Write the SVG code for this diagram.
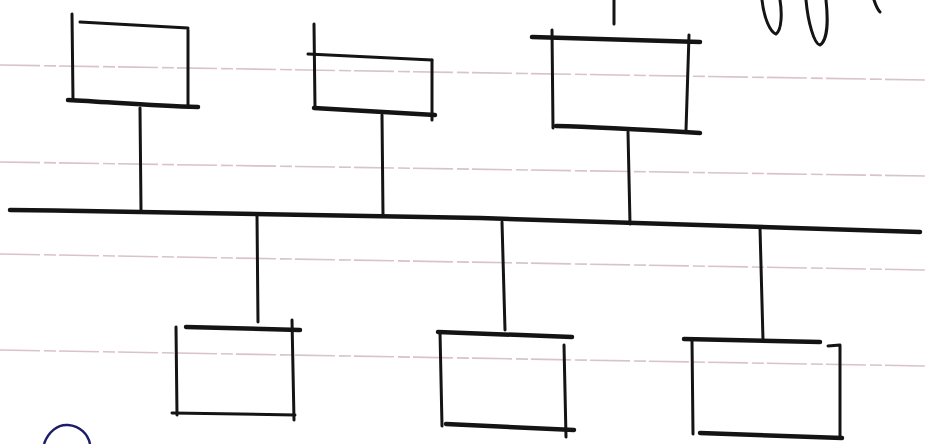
<svg xmlns="http://www.w3.org/2000/svg" width="926" height="444" viewBox="0 0 926 444">
<style>
.ink{fill:none;stroke:#141414;stroke-width:3;stroke-linecap:round;stroke-linejoin:round}
.thick{stroke-width:4.5}
.rule{fill:none;stroke:#d9c3c7;stroke-width:1.6;stroke-dasharray:40 4 12 3}
</style>
<rect width="926" height="444" fill="#ffffff"/>
<g id="paper">
<path class="rule" d="M0 65 L926 80"/>
<path class="rule" d="M0 162 L926 176"/>
<path class="rule" d="M0 254 L926 270"/>
<path class="rule" d="M0 350 L926 366"/>
</g>
<g id="scribbles">
<path class="ink" d="M614 0 L614 24"/>
<path class="ink" stroke-width="2.5" d="M762 0 C764 18 770 32 776 34 C782 30 782 12 780 0"/>
<path class="ink" stroke-width="2.5" d="M806 0 C808 22 814 44 820 45 C828 40 828 18 826 0"/>
<path class="ink" stroke-width="2.5" d="M874 0 C876 6 878 10 880 12"/>
<path fill="none" stroke="#1c1c6a" stroke-width="2.5" d="M44 444 C48 432 58 424 68 425 C80 426 88 434 90 444"/>
</g>
<g id="connectors">
<path class="ink thick" d="M10 210 C200 212 400 218 480 218 C640 222 800 228 920 232"/>
<path class="ink" d="M140 108 L141 211"/>
<path class="ink" d="M382 115 L383 215"/>
<path class="ink" d="M628 132 L630 224"/>
<path class="ink" d="M257 215 L258 322"/>
<path class="ink" d="M502 222 L505 330"/>
<path class="ink" d="M760 228 L763 340"/>
</g>
<g id="node-top-1">
<path class="ink" d="M72 14 L73 100"/>
<path class="ink" d="M80 22 L188 28"/>
<path class="ink" d="M188 30 L188 105"/>
<path class="ink thick" d="M68 100 C110 102 150 106 198 107"/>
</g>
<g id="node-top-2">
<path class="ink" d="M314 24 L315 108"/>
<path class="ink" d="M308 54 L432 60"/>
<path class="ink" d="M432 60 L432 120"/>
<path class="ink thick" d="M314 108 L435 115"/>
</g>
<g id="node-top-3">
<path class="ink" d="M552 30 L553 128"/>
<path class="ink thick" d="M532 37 L700 42"/>
<path class="ink" d="M689 35 L686 130"/>
<path class="ink thick" d="M556 126 C600 127 650 130 700 133"/>
</g>
<g id="node-bottom-1">
<path class="ink thick" d="M186 327 L300 330"/>
<path class="ink" d="M176 327 L177 415"/>
<path class="ink" d="M292 320 L294 420"/>
<path class="ink" d="M172 413 L295 415"/>
</g>
<g id="node-bottom-2">
<path class="ink thick" d="M438 332 L572 337"/>
<path class="ink" d="M440 332 L442 426"/>
<path class="ink" d="M564 345 L566 437"/>
<path class="ink thick" d="M446 424 L574 430"/>
</g>
<g id="node-bottom-3">
<path class="ink thick" d="M684 339 L820 342"/>
<path class="ink" d="M828 346 L840 345 L840 438"/>
<path class="ink" d="M692 340 L693 434"/>
<path class="ink thick" d="M700 433 L842 438"/>
</g>
</svg>
